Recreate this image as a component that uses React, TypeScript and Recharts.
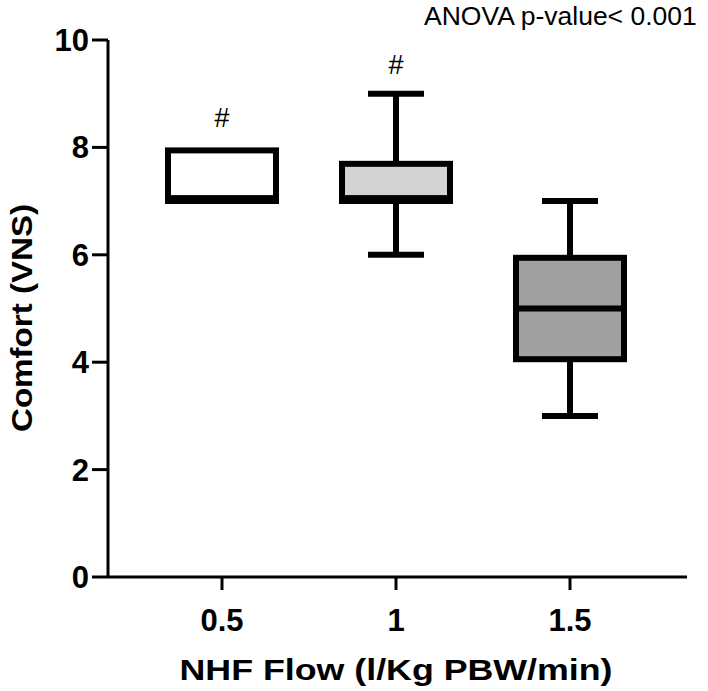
import React from "react";
import { ComposedChart, Bar, Scatter, XAxis, YAxis, LabelList } from "recharts";

const categories = ["0.5", "1", "1.5"];
const mins = [7, 6, 3];
const q1s = [7, 7, 4];
const medians = [7, 7, 5];
const q3s = [8, 7.75, 6];
const maxs = [8, 9, 7];
const marks = ["#", "#", ""];
const yTicks = [0, 2, 4, 6, 8, 10];
const fills = ["#ffffff", "#d3d3d3", "#a0a0a0"];

const data = categories.map((c, i) => ({
  label: c,
  whisker: [mins[i], maxs[i]],
  box: [q1s[i], q3s[i]],
  median: medians[i],
  mark: marks[i],
}));

const FONT = "'Liberation Sans', Arial, Helvetica, sans-serif";
const SW = 6;
const BOX_W = 114;
const CAP_W = 56;

const WhiskerShape = (props: any) => {
  const { x, y, width, height, payload } = props;
  const cx = x + width / 2;
  const [lo, hi] = payload.whisker;
  const [bq1, bq3] = payload.box;
  return (
    <g>
      {hi > bq3 || lo < bq1 ? (
        <line x1={cx} x2={cx} y1={y} y2={y + height} stroke="#000" strokeWidth={SW} />
      ) : null}
      {hi > bq3 ? <line x1={x} x2={x + width} y1={y} y2={y} stroke="#000" strokeWidth={SW} /> : null}
      {lo < bq1 ? (
        <line x1={x} x2={x + width} y1={y + height} y2={y + height} stroke="#000" strokeWidth={SW} />
      ) : null}
    </g>
  );
};

const BoxShape = (props: any) => {
  const { x, y, width, height, index } = props;
  return (
    <rect
      x={x + SW / 2}
      y={y + SW / 2}
      width={width - SW}
      height={height - SW}
      fill={fills[index]}
      stroke="#000"
      strokeWidth={SW}
    />
  );
};

const MedianShape = (props: any) => {
  const { cx, cy } = props;
  return (
    <line x1={cx - BOX_W / 2} x2={cx + BOX_W / 2} y1={cy} y2={cy} stroke="#000" strokeWidth={SW} />
  );
};

const YTick = (props: any) => {
  const { x, y, payload } = props;
  return (
    <text x={x - 1} y={y + 11} textAnchor="end" fontFamily={FONT} fontWeight="bold" fontSize={31} fill="#000">
      {payload.value}
    </text>
  );
};

const XTick = (props: any) => {
  const { x, y, payload } = props;
  return (
    <text x={x} y={y + 39} textAnchor="middle" fontFamily={FONT} fontWeight="bold" fontSize={31} fill="#000">
      {payload.value}
    </text>
  );
};

const HashLabel = (props: any) => {
  const { x, y, width, value } = props;
  if (!value) return null;
  return (
    <text x={x + width / 2} y={y - 20} textAnchor="middle" fontFamily={FONT} fontSize={27} fill="#000">
      {value}
    </text>
  );
};

export default function App() {
  return (
    <div style={{ position: "absolute", left: 0, top: 0, width: 708, height: 691, background: "#fff", overflow: "hidden" }}>
      <ComposedChart
        width={708}
        height={691}
        data={data}
        margin={{ top: 40, right: 21, bottom: 40, left: 0 }}
      >
        <XAxis
          xAxisId="main"
          dataKey="label"
          type="category"
          padding={{ left: 27, right: 30 }}
          height={74}
          axisLine={{ stroke: "#000", strokeWidth: 3 }}
          tickLine={{ stroke: "#000", strokeWidth: 3 }}
          tickSize={13}
          tick={<XTick />}
          interval={0}
        />
        <XAxis xAxisId="w" dataKey="label" type="category" padding={{ left: 27, right: 30 }} hide height={0} />
        <YAxis
          type="number"
          domain={[0, 10]}
          ticks={yTicks}
          width={108}
          axisLine={{ stroke: "#000", strokeWidth: 3 }}
          tickLine={{ stroke: "#000", strokeWidth: 3 }}
          tickSize={16}
          tick={<YTick />}
          interval={0}
        />
        <Bar xAxisId="w" dataKey="whisker" barSize={CAP_W} shape={<WhiskerShape />} isAnimationActive={false}>
          <LabelList dataKey="mark" content={<HashLabel />} />
        </Bar>
        <Bar xAxisId="main" dataKey="box" barSize={BOX_W} shape={<BoxShape />} isAnimationActive={false} />
        <Scatter xAxisId="main" dataKey="median" shape={<MedianShape />} isAnimationActive={false} />
      </ComposedChart>
      <svg
        width={708}
        height={691}
        style={{ position: "absolute", left: 0, top: 0, pointerEvents: "none" }}
      >
        <text x={424} y={25} fontFamily={FONT} fontSize={26.5} fill="#000">
          ANOVA p-value&lt; 0.001
        </text>
        <text
          x={396}
          y={680}
          textAnchor="middle"
          fontFamily={FONT}
          fontWeight="bold"
          fontSize={30}
          fill="#000"
          textLength={433}
          lengthAdjust="spacingAndGlyphs"
        >
          NHF Flow (l/Kg PBW/min)
        </text>
        <text
          x={32}
          y={318}
          textAnchor="middle"
          fontFamily={FONT}
          fontWeight="bold"
          fontSize={30}
          fill="#000"
          transform="rotate(-90 32 318)"
          textLength={228}
          lengthAdjust="spacingAndGlyphs"
        >
          Comfort (VNS)
        </text>
      </svg>
    </div>
  );
}
